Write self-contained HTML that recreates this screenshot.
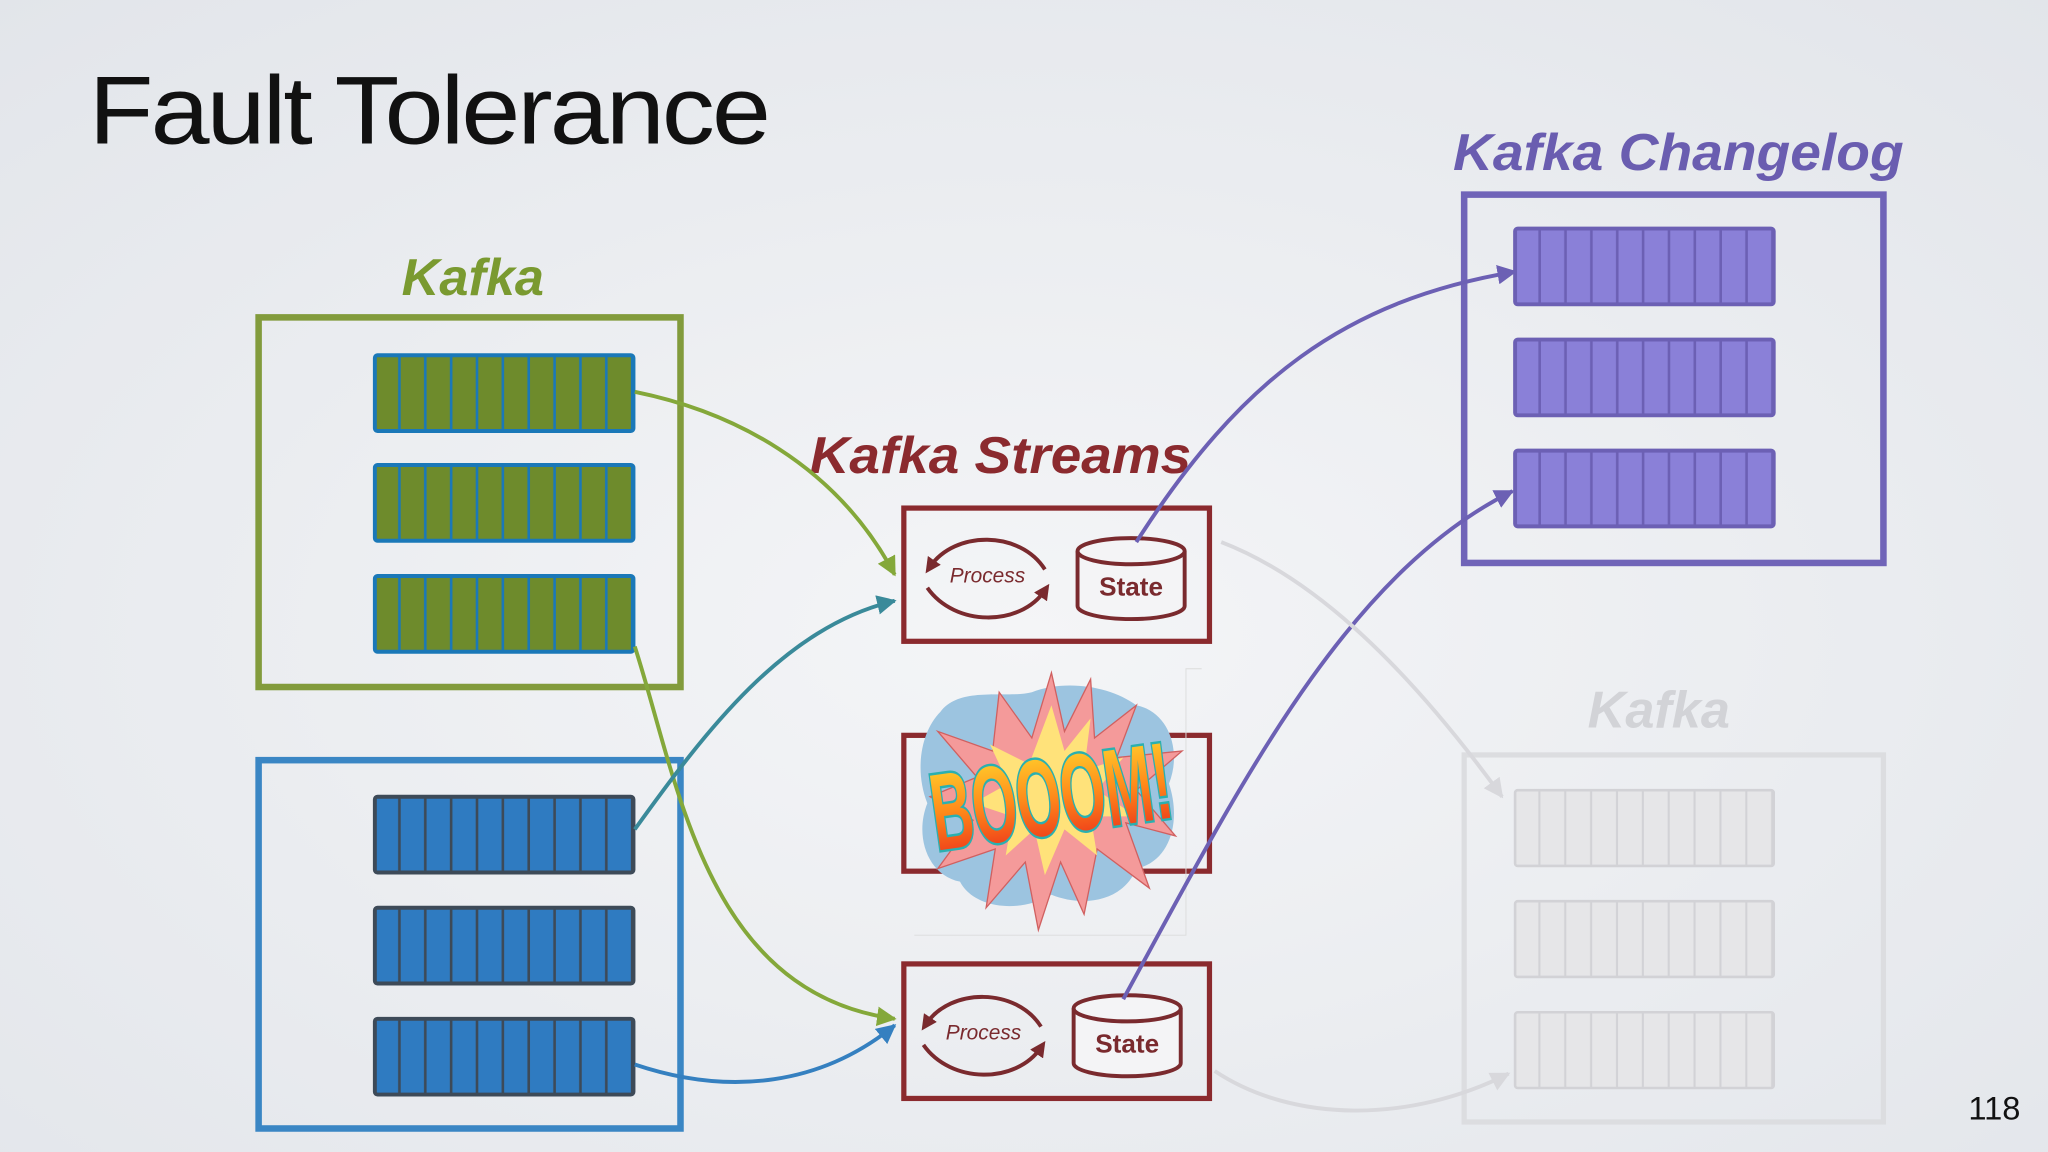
<!DOCTYPE html>
<html><head><meta charset="utf-8"><style>
html,body{margin:0;padding:0;width:2048px;height:1152px;overflow:hidden;background:#eceef1}
svg{display:block}
</style></head><body>
<svg width="2048" height="1152" viewBox="0 0 1568 882" xmlns="http://www.w3.org/2000/svg">
<defs>
<radialGradient id="bg" cx="0.5" cy="0.55" r="0.75">
<stop offset="0" stop-color="#f4f5f7"/><stop offset="1" stop-color="#e2e5ea"/>
</radialGradient>
<pattern id="pg" x="0" y="0" width="19.8" height="100" patternUnits="userSpaceOnUse"><rect width="19.8" height="100" fill="#6e8b2c"/><rect x="17.8" width="2.4" height="100" fill="#1a78b8"/></pattern>
<pattern id="pb" x="0" y="0" width="19.8" height="100" patternUnits="userSpaceOnUse"><rect width="19.8" height="100" fill="#2f7bc1"/><rect x="17.8" width="2.4" height="100" fill="#3d4a58"/></pattern>
<pattern id="pp" x="0" y="0" width="19.8" height="100" patternUnits="userSpaceOnUse"><rect width="19.8" height="100" fill="#8a80d8"/><rect x="17.8" width="2.4" height="100" fill="#6c60b4"/></pattern>
<pattern id="pq" x="0" y="0" width="19.8" height="100" patternUnits="userSpaceOnUse"><rect width="19.8" height="100" fill="#e6e6e8"/><rect x="17.8" width="1.6" height="100" fill="#d2d2d6"/></pattern>
<g id="bg1"><rect x="0" y="0" width="198" height="58" rx="2" fill="url(#pg)" stroke="#1a78b8" stroke-width="3"/></g>
<g id="bb1"><rect x="0" y="0" width="198" height="58" rx="2" fill="url(#pb)" stroke="#3d4a58" stroke-width="3"/></g>
<g id="bp1"><rect x="0" y="0" width="198" height="58" rx="2" fill="url(#pp)" stroke="#6c60b4" stroke-width="3"/></g>
<g id="bq1"><rect x="0" y="0" width="198" height="58" rx="2" fill="url(#pq)" stroke="#d2d2d6" stroke-width="2"/></g>
<marker id="ag" viewBox="0 0 10 10" refX="9" refY="5" markerWidth="5" markerHeight="5" orient="auto"><path d="M0,0L10,5L0,10z" fill="#84a83a"/></marker>
<marker id="at" viewBox="0 0 10 10" refX="9" refY="5" markerWidth="5" markerHeight="5" orient="auto"><path d="M0,0L10,5L0,10z" fill="#3a8a9a"/></marker>
<marker id="ab" viewBox="0 0 10 10" refX="9" refY="5" markerWidth="5" markerHeight="5" orient="auto"><path d="M0,0L10,5L0,10z" fill="#3580c0"/></marker>
<marker id="ap" viewBox="0 0 10 10" refX="9" refY="5" markerWidth="5" markerHeight="5" orient="auto"><path d="M0,0L10,5L0,10z" fill="#6c60b4"/></marker>
<marker id="aq" viewBox="0 0 10 10" refX="9" refY="5" markerWidth="5" markerHeight="5" orient="auto"><path d="M0,0L10,5L0,10z" fill="#d8d8dc"/></marker>
<marker id="ar" viewBox="0 0 10 10" refX="5" refY="5" markerWidth="4" markerHeight="4" orient="auto-start-reverse"><path d="M0,0L10,5L0,10z" fill="#7a2a2e"/></marker>
<linearGradient id="boomg" x1="0" y1="0" x2="0" y2="1"><stop offset="0" stop-color="#ffe030"/><stop offset="0.5" stop-color="#ff8a1a"/><stop offset="1" stop-color="#e8201a"/></linearGradient>
<g id="proc">
<path d="M-44,-6 C-25,-34 25,-34 44,-4" fill="none" stroke="#7a2a2e" stroke-width="3" marker-start="url(#ar)"/>
<path d="M-46,10 C-25,40 25,40 44,12" fill="none" stroke="#7a2a2e" stroke-width="3" marker-end="url(#ar)"/>
<text x="0" y="6" text-anchor="middle" font-family="Liberation Sans, sans-serif" font-style="italic" font-size="16" fill="#7a2a2e">Process</text>
</g>
<g id="state">
<path d="M-41,-22 L-41,20 A41,10 0 0 0 41,20 L41,-22" fill="#f4f4f6" stroke="#7a2a2e" stroke-width="3"/>
<ellipse cx="0" cy="-22" rx="41" ry="10" fill="#f4f4f6" stroke="#7a2a2e" stroke-width="3"/>
<text x="0" y="12" text-anchor="middle" font-family="Liberation Sans, sans-serif" font-weight="bold" font-size="20" fill="#7a2a2e">State</text>
</g>
</defs>
<rect width="1568" height="882" fill="url(#bg)"/>

<text x="68" y="110" font-family="Liberation Sans, sans-serif" font-size="74" letter-spacing="-2" fill="#111" textLength="520" lengthAdjust="spacingAndGlyphs">Fault Tolerance</text>
<text x="1527" y="857" text-anchor="middle" font-family="Liberation Sans, sans-serif" font-size="25" fill="#111">118</text>

<text x="362" y="226" text-anchor="middle" font-family="Liberation Sans, sans-serif" font-weight="bold" font-style="italic" font-size="40" fill="#7a9a30">Kafka</text>
<rect x="198" y="243" width="323" height="283" fill="none" stroke="#829b3c" stroke-width="5"/>
<use href="#bg1" x="287" y="272"/><use href="#bg1" x="287" y="356"/><use href="#bg1" x="287" y="441"/>
<rect x="198" y="582" width="323" height="282" fill="none" stroke="#3a86c4" stroke-width="5"/>
<use href="#bb1" x="287" y="610"/><use href="#bb1" x="287" y="695"/><use href="#bb1" x="287" y="780"/>

<text x="766" y="362" text-anchor="middle" font-family="Liberation Sans, sans-serif" font-weight="bold" font-style="italic" font-size="40" fill="#8b2a2e" textLength="292" lengthAdjust="spacingAndGlyphs">Kafka Streams</text>
<rect x="692" y="389" width="234" height="102" fill="none" stroke="#8b2a2e" stroke-width="4"/>
<use href="#proc" x="756" y="440"/><use href="#state" x="866" y="444"/>
<rect x="692" y="563" width="234" height="104" fill="none" stroke="#8b2a2e" stroke-width="4"/>
<rect x="692" y="738" width="234" height="103" fill="none" stroke="#8b2a2e" stroke-width="4"/>
<use href="#proc" x="753" y="790"/><use href="#state" x="863" y="794"/>

<!-- boom -->
<path d="M920,512 L908,512 L908,716 L700,716" fill="none" stroke="#dcdcdc" stroke-width="0.7"/>
<path d="M720,545 C735,525 770,535 790,530 C815,520 850,525 870,540 C895,545 905,575 895,600 C905,630 895,660 870,665 C860,690 830,695 805,685 C780,700 745,695 735,675 C710,670 700,640 710,615 C700,590 705,560 720,545z" fill="#9cc4e0"/>
<polygon points="805,515 815,560 835,520 838,565 870,540 855,580 905,575 870,605 900,640 862,630 880,680 840,650 830,700 812,660 795,712 785,660 755,695 762,650 718,665 745,628 712,610 748,595 718,560 760,575 765,530 790,565" fill="#f49a9a" stroke="#d06060" stroke-width="1"/>
<polygon points="805,540 815,575 835,550 830,590 860,580 840,605 870,625 835,625 840,655 815,635 800,670 792,635 770,655 775,625 745,615 772,600 758,570 788,585" fill="#ffe27a"/>
<g transform="translate(805,612) rotate(-8) scale(1,1.9)">
<text x="0" y="14" text-anchor="middle" font-family="Liberation Sans, sans-serif" font-weight="bold" font-size="44" fill="url(#boomg)" stroke="#2ab0b0" stroke-width="2" paint-order="stroke" textLength="185" lengthAdjust="spacingAndGlyphs">BOOOM!</text>
</g>

<text x="1285" y="130" text-anchor="middle" font-family="Liberation Sans, sans-serif" font-weight="bold" font-style="italic" font-size="40" fill="#6a5db0" textLength="345" lengthAdjust="spacingAndGlyphs">Kafka Changelog</text>
<rect x="1121" y="149" width="321" height="282" fill="none" stroke="#7064b8" stroke-width="5"/>
<use href="#bp1" x="1160" y="175"/><use href="#bp1" x="1160" y="260"/><use href="#bp1" x="1160" y="345"/>

<text x="1270" y="557" text-anchor="middle" font-family="Liberation Sans, sans-serif" font-weight="bold" font-style="italic" font-size="40" fill="#d2d3d7">Kafka</text>
<rect x="1121" y="578" width="321" height="281" fill="none" stroke="#dcdde0" stroke-width="4"/>
<use href="#bq1" x="1160" y="605"/><use href="#bq1" x="1160" y="690"/><use href="#bq1" x="1160" y="775"/>

<path d="M486,300 C560,315 640,355 685,440" fill="none" stroke="#84a83a" stroke-width="3" marker-end="url(#ag)"/>
<path d="M486,495 C520,600 540,760 685,780" fill="none" stroke="#84a83a" stroke-width="3" marker-end="url(#ag)"/>
<path d="M486,635 C540,560 600,480 685,460" fill="none" stroke="#3a8a9a" stroke-width="3" marker-end="url(#at)"/>
<path d="M486,815 C560,840 630,830 685,785" fill="none" stroke="#3580c0" stroke-width="3" marker-end="url(#ab)"/>
<path d="M870,415 C950,290 1030,230 1160,208" fill="none" stroke="#6c60b4" stroke-width="3" marker-end="url(#ap)"/>
<path d="M860,765 C950,600 1030,440 1158,376" fill="none" stroke="#6c60b4" stroke-width="3" marker-end="url(#ap)"/>
<path d="M935,415 C1000,440 1070,500 1150,610" fill="none" stroke="#d8d8dc" stroke-width="3" marker-end="url(#aq)"/>
<path d="M930,820 C990,860 1080,860 1155,822" fill="none" stroke="#d8d8dc" stroke-width="3" marker-end="url(#aq)"/>
</svg>
</body></html>
